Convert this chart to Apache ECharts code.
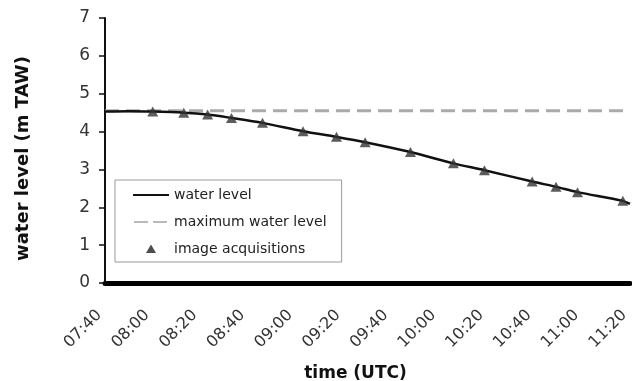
<!DOCTYPE html>
<html><head><meta charset="utf-8">
<script src="https://cdn.jsdelivr.net/npm/echarts@6/dist/echarts.min.js"></script>
<style>html,body{margin:0;padding:0;background:#fff}#c{width:632px;height:381px}</style>
</head><body><div id="c"></div>
<script>
// Water level line (time UTC, m TAW)
var levelTimes = ['07:40','07:50','08:00','08:13','08:23','08:33','08:46','09:03','09:17','09:29','09:48','10:06','10:19','10:39','10:49','10:58','11:17','11:20'];
var levelValues = [4.53, 4.54, 4.53, 4.50, 4.45, 4.36, 4.23, 4.01, 3.86, 3.72, 3.46, 3.16, 2.98, 2.68, 2.54, 2.40, 2.17, 2.09];
// Image acquisitions
var acqTimes = ['08:00','08:13','08:23','08:33','08:46','09:03','09:17','09:29','09:48','10:06','10:19','10:39','10:49','10:58','11:17'];
var acqValues = [4.53, 4.50, 4.45, 4.36, 4.23, 4.01, 3.86, 3.72, 3.46, 3.16, 2.98, 2.68, 2.54, 2.40, 2.17];
// Maximum water level
var maxTimes = ['07:40','11:20'];
var maxValues = [4.55, 4.55];
var xTickStart = '07:40', xTickEnd = '11:20', xTickStep = 20;
var yTicks = [0,1,2,3,4,5,6,7];

function toMin(s){var p=s.split(':');return (+p[0])*60+(+p[1]);}
function toHM(m){var h=Math.floor(m/60),mm=m%60;return (h<10?'0':'')+h+':'+(mm<10?'0':'')+mm;}
function pairs(t,v){return t.map(function(s,i){return [toMin(s),v[i]];});}

var FONT='DejaVu Sans';
var chart = echarts.init(document.getElementById('c'), null, {renderer:'canvas'});
chart.setOption({
  animation:false,
  backgroundColor:'#fff',
  grid:{left:105,right:2,top:18,bottom:98,containLabel:false,outerBoundsMode:'none'},
  legend:{
    orient:'vertical', left:115, top:180,
    padding:[8,15,6,18], itemGap:13, itemWidth:36, itemHeight:14,
    borderColor:'#9a9a9a', borderWidth:1, backgroundColor:'#fff',
    textStyle:{fontFamily:FONT,fontSize:14,color:'#222'},
    data:[
      {name:'water level', icon:'path://M0,0 M36,14 M0,6 L36,6 L36,8 L0,8 Z', itemStyle:{color:'#111'}},
      {name:'maximum water level', icon:'path://M0,0 M36,14 M1,6.4 L15,6.4 L15,7.6 L1,7.6 Z M20,6.4 L34,6.4 L34,7.6 L20,7.6 Z', itemStyle:{color:'#777'}},
      {name:'image acquisitions', icon:'path://M0,0 M36,14 M18,2.5 L23,11 L13,11 Z', itemStyle:{color:'#222'}}
    ]
  },
  xAxis:{
    type:'value', min:toMin(xTickStart), max:toMin(xTickEnd), interval:xTickStep,
    name:'time (UTC)', nameLocation:'middle', nameGap:82,
    nameTextStyle:{fontFamily:FONT,fontWeight:'bold',fontSize:17,color:'#111',padding:[0,24,0,0]},
    axisLine:{show:true,onZero:false,lineStyle:{color:'#000',width:5}},
    axisTick:{show:false},
    splitLine:{show:false},
    axisLabel:{rotate:45,margin:24,padding:[0,8,0,0],fontFamily:FONT,fontSize:16,color:'#333',formatter:function(v){return toHM(v);}}
  },
  yAxis:{
    type:'value', min:yTicks[0], max:yTicks[yTicks.length-1], interval:1,
    name:'water level (m TAW)', nameLocation:'middle', nameGap:73, nameRotate:90,
    nameTextStyle:{fontFamily:FONT,fontWeight:'bold',fontSize:18,color:'#111',padding:[0,16,0,0]},
    axisLine:{show:true,lineStyle:{color:'#111',width:2}},
    axisTick:{show:true,length:6,lineStyle:{color:'#111',width:1.5}},
    splitLine:{show:false},
    axisLabel:{margin:15,fontFamily:FONT,fontSize:17,color:'#333'}
  },
  series:[
    {name:'maximum water level', type:'line', data:pairs(maxTimes,maxValues), symbol:'none',
     lineStyle:{color:'#aaa',width:3,type:[14,7]}, itemStyle:{color:'#aaa'}, z:1},
    {name:'water level', type:'line', data:pairs(levelTimes,levelValues), symbol:'none', smooth:0.3,
     lineStyle:{color:'#111',width:2.5}, itemStyle:{color:'#111'}, z:2},
    {name:'image acquisitions', type:'scatter', data:pairs(acqTimes,acqValues), symbol:'triangle', symbolSize:[11,10],
     itemStyle:{color:'#333'}, z:3}
  ]
});
</script></body></html>
